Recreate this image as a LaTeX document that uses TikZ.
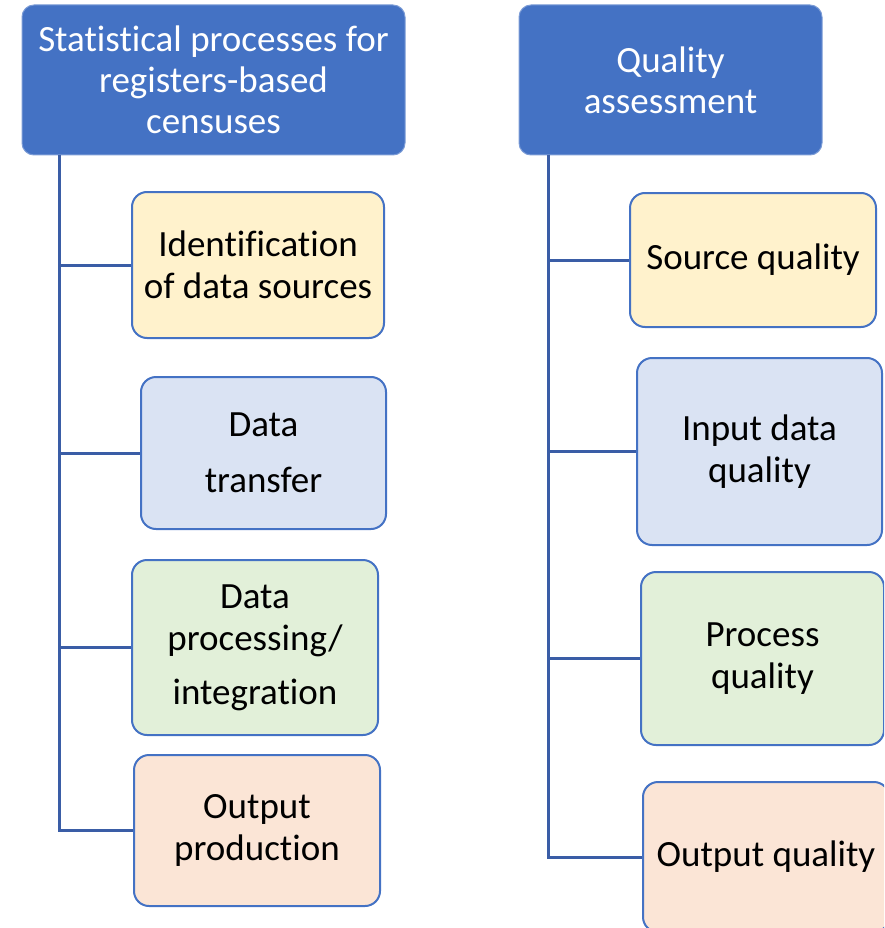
\documentclass[tikz,border=0pt]{standalone}
\usepackage{fontspec}
\setmainfont[Ligatures={NoCommon}]{Carlito}
\usepackage{tikz}
\usetikzlibrary{positioning}
\definecolor{headblue}{HTML}{4472C4}
\definecolor{trunkblue}{HTML}{3A5DA6}
\definecolor{lightyellow}{HTML}{FFF2CC}
\definecolor{lightblue}{HTML}{DAE3F3}
\definecolor{lightgreen}{HTML}{E2F0D9}
\definecolor{lightorange}{HTML}{FBE5D6}
\tikzstyle{line} = [draw=trunkblue, line width=3pt]
\tikzstyle{header} = [rectangle, fill=headblue, draw=headblue!70!white, line width=1pt,
    text=white, align=center, rounded corners=12pt, inner sep=0pt,
    font=\fontsize{37}{41}\selectfont]
\tikzstyle{leaf} = [rectangle, draw=headblue, line width=2pt, align=center,
    rounded corners=15pt, inner sep=0pt, font=\fontsize{37}{42}\selectfont]

\begin{document}
\begin{tikzpicture}[x=1pt, y=-1pt]
            \clip (0,0) rectangle (884,928);
            \useasboundingbox (0,0) rectangle (884,928);
            \node[header, minimum width=383pt, minimum height=150pt] (lhead) at (213.5,80) {Statistical processes for\\registers-based\\censuses};
            \node[header, minimum width=303pt, minimum height=150pt] (rhead) at (670.5,80) {Quality\\assessment};

            \node[leaf, fill=lightyellow, minimum width=252pt, minimum height=146pt, below of=lhead, node distance=185pt, xshift=44.5pt] (ident) {Identification\\of data sources};
            \node[leaf, fill=lightblue, minimum width=245pt, minimum height=152pt, below of=ident, node distance=188pt, xshift=5.5pt] (transfer) {Data\\[14pt]transfer};
            \node[leaf, fill=lightgreen, minimum width=246pt, minimum height=175pt, below of=transfer, node distance=194.5pt, xshift=-8.5pt] (process) {Data\\processing/\\[12pt]integration};
            \node[leaf, fill=lightorange, minimum width=246pt, minimum height=151pt, below of=process, node distance=183pt, xshift=2pt] (output) {Output\\production};

            \node[leaf, fill=lightyellow, minimum width=246pt, minimum height=134pt, below of=rhead, node distance=180pt, xshift=82.5pt] (srcq) {Source quality};
            \node[leaf, fill=lightblue, minimum width=245pt, minimum height=187pt, below of=srcq, node distance=191.5pt, xshift=6.5pt] (inq) {Input data\\quality};
            \node[leaf, fill=lightgreen, minimum width=243pt, minimum height=173pt, below of=inq, node distance=207pt, xshift=3pt] (procq) {Process\\quality};
            \node[leaf, fill=lightorange, minimum width=246pt, minimum height=150pt, below of=procq, node distance=198.5pt, xshift=3.5pt] (outq) {Output quality};

            \coordinate (ltrunk) at (59,155);
            \coordinate (rtrunk) at (548,155);

            \path [line] (ltrunk) |- (ident.west);
            \path [line] (ltrunk) |- (transfer.west);
            \path [line] (ltrunk) |- (process.west);
            \path [line] (ltrunk) |- (output.west);

            \path [line] (rtrunk) |- (srcq.west);
            \path [line] (rtrunk) |- (inq.west);
            \path [line] (rtrunk) |- (procq.west);
            \path [line] (rtrunk) |- (outq.west);
      \end{tikzpicture}
\end{document}
